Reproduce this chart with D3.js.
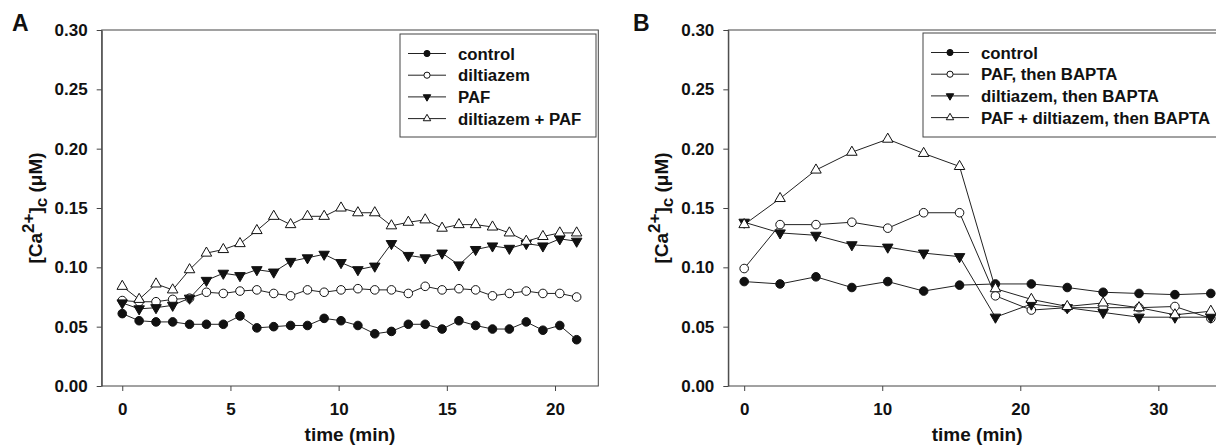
<!DOCTYPE html>
<html>
<head>
<meta charset="utf-8">
<script src="https://cdn.jsdelivr.net/npm/d3@7/dist/d3.min.js"></script>
<style>
  body { margin: 0; background: #fff; }
  svg { display: block; font-family: "Liberation Sans", Arial, sans-serif; font-weight: bold; }
  .axis text { font-size: 17px; font-weight: bold; fill: #111; }
  .axis path, .axis line { stroke: #444; stroke-width: 1; }
  .frame { fill: none; stroke: #444; stroke-width: 1; }
  .series-line { fill: none; stroke: #222; stroke-width: 1; }
</style>
</head>
<body>
<svg id="chart" width="1216" height="445"></svg>
<script>
// ---- panel A data ----
const timesA = [0, 0.78, 1.56, 2.33, 3.11, 3.89, 4.67, 5.44, 6.22, 7.0, 7.78, 8.56, 9.33, 10.11,
  10.89, 11.67, 12.44, 13.22, 14.0, 14.78, 15.56, 16.33, 17.11, 17.89, 18.67, 19.44, 20.22, 21.0];
const controlA = [0.061, 0.055, 0.054, 0.054, 0.052, 0.052, 0.052, 0.059, 0.049, 0.050, 0.051, 0.051, 0.057, 0.055,
  0.051, 0.044, 0.046, 0.052, 0.052, 0.048, 0.055, 0.051, 0.048, 0.048, 0.054, 0.047, 0.051, 0.039];
const diltiazemA = [0.072, 0.071, 0.071, 0.073, 0.074, 0.079, 0.078, 0.080, 0.081, 0.078, 0.076, 0.081, 0.079, 0.081,
  0.082, 0.081, 0.081, 0.078, 0.084, 0.081, 0.082, 0.081, 0.076, 0.078, 0.080, 0.078, 0.078, 0.075];
const pafA = [0.070, 0.065, 0.066, 0.068, 0.074, 0.089, 0.095, 0.093, 0.098, 0.096, 0.105, 0.108, 0.111, 0.104,
  0.098, 0.101, 0.120, 0.110, 0.108, 0.112, 0.102, 0.115, 0.118, 0.116, 0.120, 0.118, 0.124, 0.122];
const diltPafA = [0.084, 0.073, 0.086, 0.081, 0.098, 0.112, 0.115, 0.120, 0.131, 0.143, 0.136, 0.143, 0.143, 0.150,
  0.146, 0.146, 0.135, 0.138, 0.140, 0.133, 0.136, 0.136, 0.134, 0.129, 0.122, 0.126, 0.129, 0.129];
const labelsA = ["control", "diltiazem", "PAF", "diltiazem + PAF"];

// ---- panel B data ----
const timesB = [0, 2.6, 5.2, 7.8, 10.4, 13.0, 15.6, 18.2, 20.8, 23.4, 26.0, 28.6, 31.2, 33.8];
const controlB = [0.088, 0.086, 0.092, 0.083, 0.088, 0.080, 0.085, 0.086, 0.086, 0.083, 0.079, 0.078, 0.077, 0.078];
const pafBaptaB = [0.099, 0.136, 0.136, 0.138, 0.133, 0.146, 0.146, 0.076, 0.064, 0.066, 0.066, 0.066, 0.067, 0.057];
const diltBaptaB = [0.138, 0.129, 0.127, 0.119, 0.117, 0.112, 0.109, 0.058, 0.069, 0.066, 0.062, 0.058, 0.058, 0.058];
const pafDiltBaptaB = [0.136, 0.158, 0.182, 0.197, 0.208, 0.196, 0.185, 0.082, 0.073, 0.067, 0.070, 0.066, 0.060, 0.063];
const labelsB = ["control", "PAF, then BAPTA", "diltiazem, then BAPTA", "PAF + diltiazem, then BAPTA"];

const yTicks = [0, 0.05, 0.10, 0.15, 0.20, 0.25, 0.30];
const xTicksA = [0, 5, 10, 15, 20];
const xTicksB = [0, 10, 20, 30];

// marker styles, same order in both panels
const markers = [
  { type: d3.symbolCircle, fill: "#111", rot: 0 },
  { type: d3.symbolCircle, fill: "#fff", rot: 0 },
  { type: d3.symbolTriangle, fill: "#111", rot: 180 },
  { type: d3.symbolTriangle, fill: "#fff", rot: 0 }
];

const svg = d3.select("#chart");

function drawPanel(p) {
  const x = d3.scaleLinear().domain(p.xDomain).range([p.left, p.right]);
  const y = d3.scaleLinear().domain([0, 0.30]).range([p.bottom, p.top]);
  const g = svg.append("g");

  g.append("rect").attr("class", "frame")
    .attr("x", p.left).attr("y", p.top)
    .attr("width", p.right - p.left).attr("height", p.bottom - p.top);

  g.append("g").attr("class", "axis")
    .attr("transform", `translate(${p.left},0)`)
    .call(d3.axisLeft(y).tickValues(yTicks).tickFormat(d3.format(".2f")).tickSize(5).tickSizeOuter(0).tickPadding(9));

  g.append("g").attr("class", "axis")
    .attr("transform", `translate(0,${p.bottom})`)
    .call(d3.axisBottom(x).tickValues(p.xTicks).tickFormat(d3.format("d")).tickSize(5).tickSizeOuter(0).tickPadding(12))
    .select(".domain").remove();

  // lines then markers
  const line = d3.line().x(d => x(d[0])).y(d => y(d[1]));
  p.series.forEach((vals, si) => {
    const pts = p.times.map((t, i) => [t, vals[i]]);
    g.append("path").attr("class", "series-line").attr("d", line(pts));
  });
  p.series.forEach((vals, si) => {
    const m = markers[si];
    const sym = d3.symbol().type(m.type).size(m.type === d3.symbolCircle ? 58 : 48);
    g.append("g").selectAll("path")
      .data(p.times.map((t, i) => [t, vals[i]]))
      .join("path")
      .attr("d", sym)
      .attr("transform", d => `translate(${x(d[0])},${y(d[1])}) rotate(${m.rot})`)
      .attr("fill", m.fill).attr("stroke", "#111").attr("stroke-width", 1);
  });

  // legend
  const lg = g.append("g");
  lg.append("rect").attr("class", "frame")
    .attr("x", p.legend.x).attr("y", p.legend.y)
    .attr("width", p.legend.w).attr("height", p.legend.h)
    .attr("fill", "#fff");
  p.labels.forEach((lab, i) => {
    const ly = p.legend.y + 19.5 + i * 21.7;
    const lx = p.legend.x + 8;
    lg.append("line").attr("x1", lx).attr("x2", lx + 38).attr("y1", ly).attr("y2", ly)
      .attr("stroke", "#222").attr("stroke-width", 1);
    const m = markers[i];
    lg.append("path")
      .attr("d", d3.symbol().type(m.type).size(m.type === d3.symbolCircle ? 30 : 24))
      .attr("transform", `translate(${lx + 19},${ly}) rotate(${m.rot})`)
      .attr("fill", m.fill).attr("stroke", "#111").attr("stroke-width", 1);
    lg.append("text").attr("x", lx + 50).attr("y", ly + 6)
      .attr("font-size", 16.8).attr("fill", "#111").text(lab);
  });

  // axis titles
  const yt = g.append("text")
    .attr("transform", `translate(${p.left - 60},${(p.top + p.bottom) / 2}) rotate(-90)`)
    .attr("text-anchor", "middle").attr("font-size", 19).attr("fill", "#111");
  yt.append("tspan").text("[Ca");
  yt.append("tspan").attr("font-size", 17).attr("dy", -8).text("2+");
  yt.append("tspan").attr("dy", 8).text("]");
  yt.append("tspan").attr("font-size", 17).attr("dy", 5).text("c");
  yt.append("tspan").attr("dy", -5).text(" (μM)");

  g.append("text")
    .attr("x", (p.left + p.right) / 2).attr("y", 441)
    .attr("text-anchor", "middle").attr("font-size", 19).attr("fill", "#111")
    .text("time (min)");

  g.append("text").attr("x", p.letterX).attr("y", 31)
    .attr("font-size", 23).attr("fill", "#111").text(p.letter);
}

drawPanel({
  letter: "A", letterX: 12,
  left: 101.7, right: 598.3, top: 30, bottom: 386,
  xDomain: [-0.95, 22], xTicks: xTicksA,
  times: timesA, series: [controlA, diltiazemA, pafA, diltPafA], labels: labelsA,
  legend: { x: 400, y: 34, w: 196, h: 103 }
});

drawPanel({
  letter: "B", letterX: 633,
  left: 728.3, right: 1226, top: 30, bottom: 386,
  xDomain: [-1.15, 34.9], xTicks: xTicksB,
  times: timesB, series: [controlB, pafBaptaB, diltBaptaB, pafDiltBaptaB], labels: labelsB,
  legend: { x: 923, y: 33, w: 300, h: 104 }
});
</script>
</body>
</html>
